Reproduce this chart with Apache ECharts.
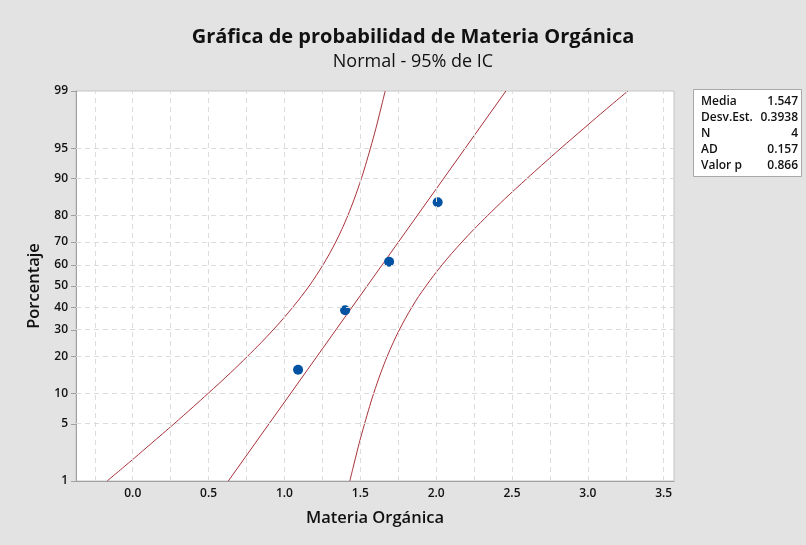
<!DOCTYPE html>
<html><head><meta charset="utf-8">
<script src="https://cdn.jsdelivr.net/npm/echarts@6/dist/echarts.min.js"></script>
<style>html,body{margin:0;padding:0;background:#e3e3e3;}#c{width:806px;height:545px;}</style>
</head><body><div id="c"></div>
<script>
// ---- data ----
const obsValues = [1.09, 1.40, 1.69, 2.01];
const obsPct = [15.9, 38.6, 61.4, 84.1];
const fitPct = [1, 99];
const fitX = [0.63, 2.46];
const ciPct = [1, 1.5, 2, 3, 5, 7.5, 10, 15, 20, 25, 30, 35, 40, 45, 50, 55, 60, 65, 70, 75, 80, 85, 90, 92.5, 95, 97, 98, 98.5, 99];
const ciLower = [-0.169, -0.066, 0.010, 0.121, 0.272, 0.400, 0.497, 0.644, 0.755, 0.847, 0.925, 0.994, 1.055, 1.111, 1.163, 1.210, 1.255, 1.297, 1.338, 1.378, 1.418, 1.460, 1.507, 1.534, 1.567, 1.603, 1.627, 1.643, 1.664];
const ciUpper = [1.431, 1.452, 1.468, 1.492, 1.528, 1.561, 1.588, 1.635, 1.677, 1.717, 1.757, 1.798, 1.840, 1.884, 1.933, 1.984, 2.040, 2.101, 2.170, 2.248, 2.340, 2.451, 2.598, 2.695, 2.823, 2.974, 3.085, 3.161, 3.264];
const yTickPct = [1, 5, 10, 20, 30, 40, 50, 60, 70, 80, 90, 95, 99];
const yGridPct = [5, 10, 20, 30, 40, 50, 60, 70, 80, 90, 95];
const xTickVals = [0, 0.5, 1.0, 1.5, 2.0, 2.5, 3.0, 3.5];
const xGridVals = [-0.25, 0, 0.25, 0.5, 0.75, 1.0, 1.25, 1.5, 1.75, 2.0, 2.25, 2.5, 2.75, 3.0, 3.25, 3.5];
const statsLabels = ['Media', 'Desv.Est.', 'N', 'AD', 'Valor p'];
const statsValues = ['1.547', '0.3938', '4', '0.157', '0.866'];

// probability scale transform: percent -> standard normal quantile
function probit(p) {
  const a=[-3.969683028665376e+01,2.209460984245205e+02,-2.759285104469687e+02,1.383577518672690e+02,-3.066479806614716e+01,2.506628277459239e+00];
  const b=[-5.447609879822406e+01,1.615858368580409e+02,-1.556989798598866e+02,6.680131188771972e+01,-1.328068155288572e+01];
  const c=[-7.784894002430293e-03,-3.223964580411365e-01,-2.400758277161838e+00,-2.549732539343734e+00,4.374664141464968e+00,2.938163982698783e+00];
  const d=[7.784695709041462e-03,3.224671290700398e-01,2.445134137142996e+00,3.754408661907416e+00];
  const pl=0.02425, ph=1-pl; let q,r;
  if (p<pl){q=Math.sqrt(-2*Math.log(p));return (((((c[0]*q+c[1])*q+c[2])*q+c[3])*q+c[4])*q+c[5])/((((d[0]*q+d[1])*q+d[2])*q+d[3])*q+1);}
  if (p<=ph){q=p-0.5;r=q*q;return (((((a[0]*r+a[1])*r+a[2])*r+a[3])*r+a[4])*r+a[5])*q/(((((b[0]*r+b[1])*r+b[2])*r+b[3])*r+b[4])*r+1);}
  q=Math.sqrt(-2*Math.log(1-p));return -(((((c[0]*q+c[1])*q+c[2])*q+c[3])*q+c[4])*q+c[5])/((((d[0]*q+d[1])*q+d[2])*q+d[3])*q+1);
}
const Z = p => probit(p/100);
const yTickZ = yTickPct.map(Z);

const FONT = '"Open Sans", "Noto Sans", sans-serif';
const RED = '#a8323a';

const chart = echarts.init(document.getElementById('c'), null, {renderer:'canvas'});
const statsGraphics = [];
statsGraphics.push({type:'rect', shape:{x:693.5,y:89.5,width:108,height:87}, style:{fill:'#fff', stroke:'#a8a8a8', lineWidth:1}, z:10});
statsLabels.forEach((t,i)=>{
  statsGraphics.push({type:'text', x:701, y:102+i*15.8, style:{text:t, font:'600 12px '+FONT, fill:'#111', textVerticalAlign:'middle', textAlign:'left'}, z:11});
  statsGraphics.push({type:'text', x:798, y:102+i*15.8, style:{text:statsValues[i], font:'600 12px '+FONT, fill:'#111', textVerticalAlign:'middle', textAlign:'right'}, z:11});
});

chart.setOption({
  backgroundColor:'#e3e3e3',
  animation:false,
  title:[
    {text:'Gráfica de probabilidad de Materia Orgánica', left:408, top:22, textAlign:'center',
     textStyle:{fontFamily:FONT, fontSize:20, fontWeight:'bold', color:'#111'}},
    {text:'Normal - 95% de IC', left:408, top:48, textAlign:'center',
     textStyle:{fontFamily:FONT, fontSize:18, fontWeight:'normal', color:'#111'}}
  ],
  grid:{left:76, top:91, right:132, bottom:64, show:true, backgroundColor:'#fff', borderColor:'#c4c4c4', borderWidth:1},
  xAxis:{type:'value', min:-0.374, max:3.568,
    name:'Materia Orgánica', nameLocation:'middle', nameGap:29,
    nameTextStyle:{fontFamily:FONT, fontSize:16.5, fontWeight:'600', color:'#111'},
    axisLine:{show:true, onZero:false, lineStyle:{color:'#a0a0a0'}},
    axisTick:{show:false},
    splitLine:{show:false},
    axisLabel:{customValues:xTickVals, margin:7, fontFamily:FONT, fontSize:12, fontWeight:'600', color:'#111',
      formatter:v=>v.toFixed(1)}
  },
  yAxis:{type:'value', min:Z(1), max:Z(99),
    name:'Porcentaje', nameLocation:'middle', nameGap:33,
    nameTextStyle:{fontFamily:FONT, fontSize:16.5, fontWeight:'600', color:'#111'},
    axisLine:{show:true, onZero:false, lineStyle:{color:'#a0a0a0'}},
    axisTick:{show:true, customValues:yTickZ, length:5, inside:false, lineStyle:{color:'#a0a0a0'}},
    splitLine:{show:false},
    axisLabel:{customValues:yTickZ, margin:8, fontFamily:FONT, fontSize:12, fontWeight:'600', color:'#111',
      formatter:v=>{ let best=yTickPct[0]; yTickPct.forEach(p=>{ if(Math.abs(Z(p)-v)<Math.abs(Z(best)-v)) best=p; }); return String(best); }}
  },
  graphic:statsGraphics,
  series:[
    {type:'scatter', data:[], z:1, silent:true,
     markLine:{silent:true, symbol:['none','none'], label:{show:false}, animation:false,
       lineStyle:{color:'#dcdcdc', type:[5,4], width:1},
       data: xGridVals.map(v=>({xAxis:v})).concat(yGridPct.map(p=>({yAxis:Z(p)})))}},
    {type:'line', data:ciPct.map((p,i)=>[ciLower[i], Z(p)]), smooth:0.3, showSymbol:false, z:3,
     lineStyle:{color:RED, width:1}},
    {type:'line', data:ciPct.map((p,i)=>[ciUpper[i], Z(p)]), smooth:0.3, showSymbol:false, z:3,
     lineStyle:{color:RED, width:1}},
    {type:'line', data:fitPct.map((p,i)=>[fitX[i], Z(p)]), showSymbol:false, z:3,
     lineStyle:{color:RED, width:1}},
    {type:'scatter', data:obsPct.map((p,i)=>[obsValues[i], Z(p)]), symbolSize:10, z:4,
     itemStyle:{color:'#0052a3', opacity:1}}
  ]
});
</script></body></html>
